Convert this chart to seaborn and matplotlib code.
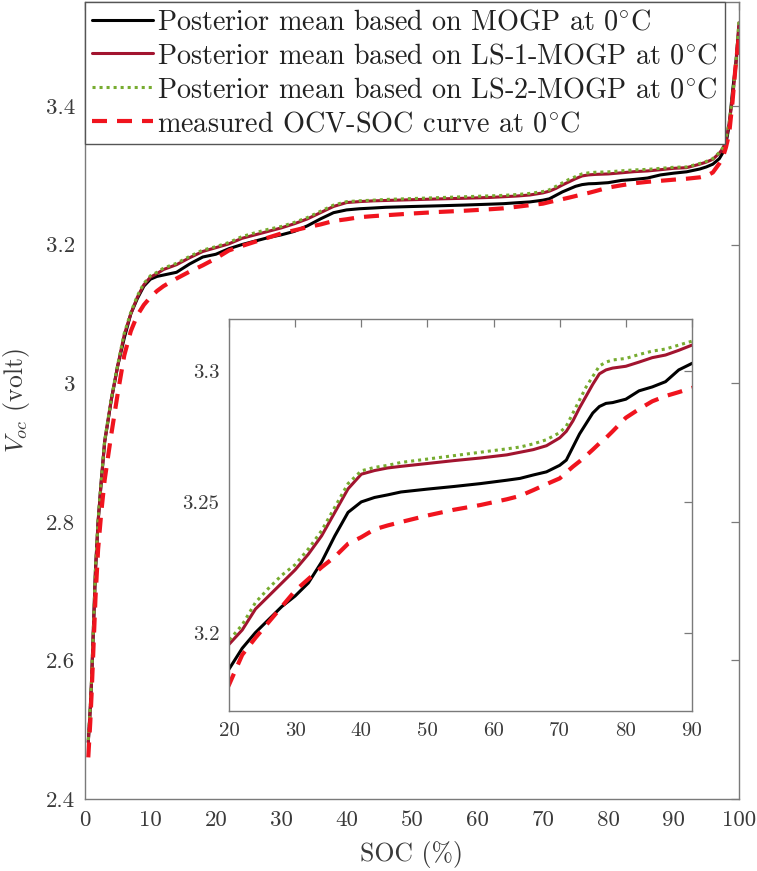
import numpy as np
import pandas as pd
import matplotlib
matplotlib.use("Agg")
import matplotlib.pyplot as plt
import seaborn as sns

# ---- data ------------------------------------------------------------------
soc = [0.5, 0.8, 1.0, 1.3, 1.6, 2.0, 2.5, 3, 4, 5, 6, 7, 8, 9, 10, 11, 12, 14,
       16, 18, 20, 22, 24, 26, 28, 30, 32, 34, 36, 38, 40, 42, 44, 46, 50, 54,
       58, 62, 64, 66, 68, 70, 71, 72, 73, 74, 75, 76, 77, 78, 80, 82, 84, 86,
       88, 90, 92, 94, 95, 96, 97, 97.5, 98, 98.5, 99, 99.5, 100]

v_mogp = [2.482, 2.53, 2.57, 2.65, 2.73, 2.80, 2.86, 2.915, 2.975, 3.025, 3.065,
          3.10, 3.122, 3.14, 3.150, 3.154, 3.156, 3.160, 3.172, 3.182, 3.186,
          3.194, 3.200, 3.205, 3.210, 3.214, 3.219, 3.227, 3.237, 3.246, 3.250,
          3.2517, 3.2527, 3.2538, 3.2549, 3.2559, 3.257, 3.2583, 3.259, 3.2603,
          3.2615, 3.264, 3.266, 3.271, 3.276, 3.280, 3.284, 3.2865, 3.2877,
          3.288, 3.2893, 3.2925, 3.294, 3.296, 3.3005, 3.303, 3.305, 3.309,
          3.312, 3.316, 3.324, 3.332, 3.345, 3.372, 3.42, 3.46, 3.515]

v_ls1 = [2.482, 2.53, 2.57, 2.65, 2.73, 2.80, 2.86, 2.915, 2.975, 3.025, 3.07,
         3.10, 3.124, 3.142, 3.153, 3.158, 3.164, 3.171, 3.181, 3.190, 3.1955,
         3.201, 3.209, 3.214, 3.219, 3.224, 3.230, 3.237, 3.246, 3.255, 3.2606,
         3.262, 3.263, 3.2636, 3.2647, 3.2658, 3.2668, 3.268, 3.269, 3.270,
         3.2715, 3.2745, 3.277, 3.281, 3.286, 3.2905, 3.295, 3.299, 3.3005,
         3.3012, 3.3019, 3.3035, 3.3052, 3.3062, 3.308, 3.310, 3.311, 3.316,
         3.319, 3.323, 3.332, 3.338, 3.35, 3.375, 3.41, 3.455, 3.52]

v_ls2 = [2.485, 2.533, 2.573, 2.653, 2.733, 2.803, 2.862, 2.917, 2.977, 3.027,
         3.072, 3.102, 3.126, 3.144, 3.155, 3.160, 3.166, 3.173, 3.183, 3.192,
         3.197, 3.203, 3.2115, 3.217, 3.222, 3.226, 3.232, 3.239, 3.248, 3.257,
         3.2619, 3.2632, 3.264, 3.2651, 3.2664, 3.2677, 3.269, 3.2703, 3.271,
         3.2722, 3.2738, 3.2765, 3.279, 3.284, 3.289, 3.294, 3.298, 3.302,
         3.3035, 3.3043, 3.3049, 3.3064, 3.3077, 3.3085, 3.31, 3.3115, 3.312,
         3.317, 3.320, 3.324, 3.333, 3.339, 3.352, 3.377, 3.412, 3.458, 3.523]

v_meas = [2.46, 2.51, 2.55, 2.62, 2.69, 2.76, 2.815, 2.86, 2.925, 2.985, 3.04,
          3.075, 3.098, 3.113, 3.124, 3.133, 3.14, 3.151, 3.161, 3.17, 3.18,
          3.1915, 3.198, 3.204, 3.210, 3.216, 3.2205, 3.225, 3.229, 3.234,
          3.2365, 3.2395, 3.241, 3.2423, 3.2448, 3.247, 3.2488, 3.251, 3.2523,
          3.2545, 3.2568, 3.259, 3.2613, 3.2635, 3.2655, 3.2677, 3.270, 3.2724,
          3.2745, 3.277, 3.2822, 3.2855, 3.2885, 3.2905, 3.292, 3.2936, 3.295,
          3.297, 3.299, 3.304, 3.317, 3.325, 3.34, 3.36, 3.405, 3.46, 3.50]

labels = [r"Posterior mean based on MOGP at $0^{\circ}$C",
          r"Posterior mean based on LS-1-MOGP at $0^{\circ}$C",
          r"Posterior mean based on LS-2-MOGP at $0^{\circ}$C",
          r"measured OCV-SOC curve at $0^{\circ}$C"]

main_xticks = list(range(0, 101, 10))
main_yticks = [2.4, 2.6, 2.8, 3.0, 3.2, 3.4]
inset_xticks = list(range(20, 91, 10))
inset_yticks = [3.2, 3.25, 3.3]

# ---- style -----------------------------------------------------------------
sns.set_theme(style="white")
plt.rcParams["font.family"] = ["cmr10", "DejaVu Serif"]
plt.rcParams["mathtext.fontset"] = "cm"
plt.rcParams["axes.formatter.use_mathtext"] = True
plt.rcParams["axes.unicode_minus"] = False

TXT = "#3a3a3a"
SPINE = "#7a7a7a"

styles = [
    dict(color="#000000", lw=2.2, ls="-"),
    dict(color="#A2142F", lw=2.2, ls="-"),
    dict(color="#77AC30", lw=2.2, ls=(0, (1.0, 1.3))),
    dict(color="#F0141E", lw=3.0, ls=(0, (3.6, 2.4))),
]
series = [v_mogp, v_ls1, v_ls2, v_meas]

df = pd.DataFrame({"soc": soc})


def style_axes(ax, xticks, yticks, fs):
    ax.set_xticks(xticks)
    ax.set_yticks(yticks)
    ax.set_xticklabels([f"{t:g}" for t in xticks])
    ax.set_yticklabels([f"{t:g}" for t in yticks])
    ax.tick_params(direction="in", top=True, right=True, length=6, width=0.9,
                   color=SPINE, labelcolor=TXT, labelsize=fs)
    ax.tick_params(axis="y", pad=7)
    ax.tick_params(axis="x", pad=8)
    for s in ax.spines.values():
        s.set_visible(True)
        s.set_color(SPINE)
        s.set_linewidth(1.0)


fig = plt.figure(figsize=(7.57, 8.71), dpi=100)
ax = fig.add_axes([0.1123, 0.0827, 0.8639, 0.9150])

for v, st, lab in zip(series, styles, labels):
    sns.lineplot(x=df["soc"], y=v, ax=ax, color=st["color"], linewidth=st["lw"],
                 linestyle=st["ls"], label=lab)

ax.set_xlim(0, 100)
ax.set_ylim(2.4, 3.55)
style_axes(ax, main_xticks, main_yticks, 16.5)
ax.set_xlabel("SOC (%)", fontsize=18.5, color=TXT, labelpad=8)
ax.set_ylabel(r"$V_{oc}$ (volt)", fontsize=18.5, color=TXT, labelpad=10)

handles, labs = ax.get_legend_handles_labels()
leg = ax.legend(handles, labs, loc="upper left", fontsize=20.3, frameon=True,
                fancybox=False, borderaxespad=0.0, borderpad=0.25,
                handlelength=2.15, handletextpad=0.15, labelspacing=0.27)
leg.get_frame().set_edgecolor("#555555")
leg.get_frame().set_linewidth(1.0)
leg.get_frame().set_alpha(1.0)
for t in leg.get_texts():
    t.set_color("#222222")

# ---- inset -----------------------------------------------------------------
axin = fig.add_axes([0.3025, 0.1837, 0.6116, 0.4501])
for v, st in zip(series, styles):
    sns.lineplot(x=df["soc"], y=v, ax=axin, color=st["color"], linewidth=st["lw"],
                 linestyle=st["ls"], legend=False)
axin.set_xlim(20, 90)
axin.set_ylim(3.17, 3.32)
axin.set_xlabel("")
axin.set_ylabel("")
style_axes(axin, inset_xticks, inset_yticks, 15)

fig.savefig("out.png", dpi=100, facecolor="white")
